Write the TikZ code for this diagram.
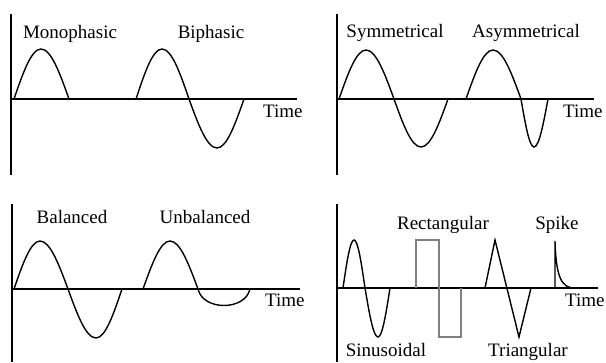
\documentclass[tikz,border=0pt]{standalone}
\usepackage{fontspec}
\setmainfont{Liberation Serif}
\tikzset{
  axis/.style={line width=1.6pt},
  wave/.style={line width=1.4pt},
  lbl/.style={inner sep=0pt, anchor=base, font=\fontsize{19}{21}\selectfont},
  tlbl/.style={lbl, anchor=base west},
}
\begin{document}
\begin{tikzpicture}[x=1pt,y=-1pt]
        \useasboundingbox (0,0) rectangle (606,362);
        % top left
        \draw [axis] (11,14) -- (11,175);
        \draw [axis] (11,99) -- (297,99);
        \node [tlbl] (t1) at (263,117) {Time};
        \draw [wave] (14,99) sin (41,49) cos (69,99);
        \draw [wave] (136,99) sin (162,49) cos (189,99) sin (217,148) cos (244,99);
        \node [lbl] (mono) at (70,38) {Monophasic};
        \node [lbl] (bi) at (211,38) {Biphasic};
        % top right
        \draw [axis] (337,14) -- (337,175);
        \draw [axis] (337,99) -- (594,99);
        \node [tlbl] (t2) at (563,117) {Time};
        \draw [wave] (339,99) sin (366,50) cos (394,99) sin (421,147) cos (448,99);
        \draw [wave] (466,99) sin (493,50) cos (521,99) sin (534,147) cos (548,99);
        \node [lbl] (sym) at (395,37) {Symmetrical};
        \node [lbl] (asym) at (526,37) {Asymmetrical};
        % bottom left
        \draw [axis] (12,204) -- (12,362);
        \draw [axis] (12,289) -- (300,289);
        \node [tlbl] (t3) at (265,306) {Time};
        \draw [wave] (14,289) sin (40,241) cos (68,289) sin (96,338) cos (122,289);
        \draw [wave] (143,289) sin (170,241) cos (198,289) .. controls (203,311) and (245,311) .. (250,289);
        \node [lbl] (bal) at (72,223) {Balanced};
        \node [lbl] (unbal) at (205,223) {Unbalanced};
        % bottom right
        \draw [axis] (337,204) -- (337,362);
        \draw [axis] (337,288) -- (598,288);
        \node [tlbl] (t4) at (565,306) {Time};
        \draw [wave] (343,288) sin (354,240) cos (365,288) sin (378,337) cos (390,288);
        \draw [wave, gray] (416,288) -- (416,240) -- (439,240) -- (439,337) -- (461,337) -- (461,288);
        \draw [wave] (485,288) -- (495,240) -- (519,337) -- (531,288);
        \draw [wave] (555,288) -- (555,241) .. controls (556,278) and (562,287) .. (573,288);
        \node [lbl] (rect) at (443,229) {Rectangular};
        \node [lbl] (spike) at (557,229) {Spike};
        \node [lbl] (sinus) at (386,356) {Sinusoidal};
        \node [lbl] (tri) at (528,356) {Triangular};
\end{tikzpicture}
\end{document}
